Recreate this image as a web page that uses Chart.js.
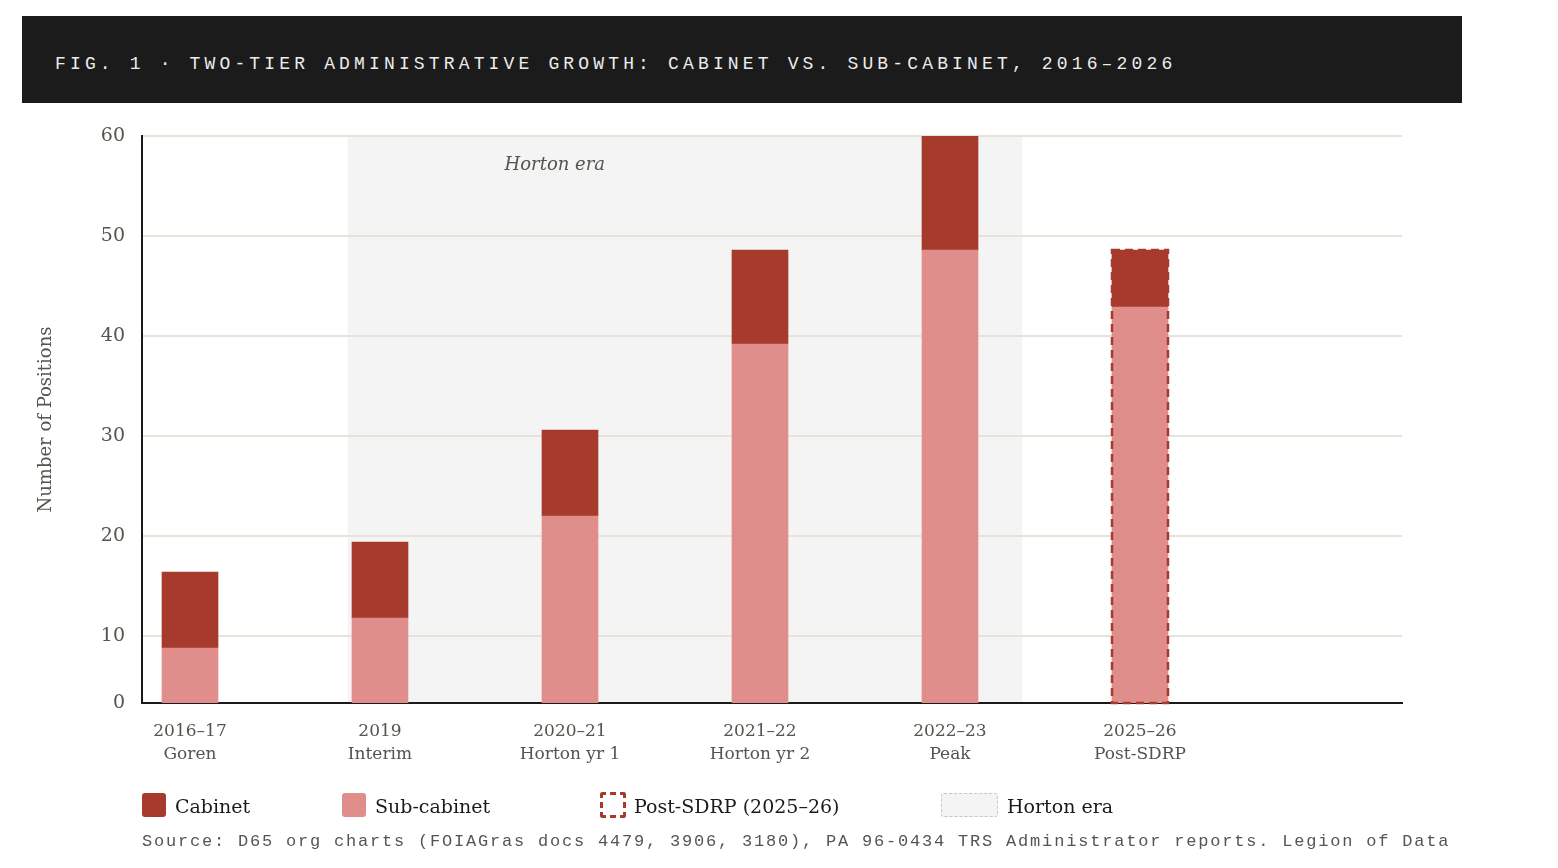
<!DOCTYPE html>
<html>
<head>
<meta charset="utf-8">
<script src="https://cdn.jsdelivr.net/npm/chart.js@4.4.1/dist/chart.umd.min.js"></script>
<style>
  html, body { margin: 0; padding: 0; background: #ffffff; }
  body { width: 1558px; height: 868px; position: relative; overflow: hidden; }
  #chart { position: absolute; left: 0; top: 0; }
  #titlebar { position: absolute; left: 22px; top: 16px; width: 1440px; height: 87px; background: #1b1b1b; }
  #titlebar span { position: absolute; left: 33px; top: 36px; font-family: "Liberation Mono", "DejaVu Sans Mono", monospace; font-size: 18px; letter-spacing: 4.15px; color: #ececec; line-height: 24px; white-space: nowrap; }
  .leg { position: absolute; top: 793px; height: 26px; font-family: "DejaVu Serif", serif; font-size: 19px; color: #1a1a1a; line-height: 26px; white-space: nowrap; }
  .sw { position: absolute; top: 0; box-sizing: border-box; border-radius: 3px; }
  .leg .txt { position: absolute; top: 0; }
  #source { position: absolute; left: 142px; top: 831px; font-family: "Liberation Mono", "DejaVu Sans Mono", monospace; font-size: 17px; letter-spacing: 1.8px; color: #555555; white-space: nowrap; line-height: 22px; }
</style>
</head>
<body>
<canvas id="chart" width="1558" height="868"></canvas>
<div id="titlebar"><span id="titletext"></span></div>
<div id="legend"></div>
<div id="source"></div>
<script>
// ---------- data ----------
const TITLE = 'FIG. 1 · TWO-TIER ADMINISTRATIVE GROWTH: CABINET VS. SUB-CABINET, 2016–2026';
const CATEGORIES = ['2016–17', '2019', '2020–21', '2021–22', '2022–23', '2025–26'];
const ERA_NAMES = ['Goren', 'Interim', 'Horton yr 1', 'Horton yr 2', 'Peak', 'Post-SDRP'];
const SUB_CABINET = [8.8, 11.8, 22.0, 39.2, 48.6, 42.9];
const CABINET = [7.6, 7.6, 8.6, 9.4, 11.4, 5.7];
const Y_TICKS = [0, 10, 20, 30, 40, 50, 60];
const Y_AXIS_TITLE = 'Number of Positions';
const HORTON_ERA = [0.83, 4.38];
const HORTON_LABEL = 'Horton era';
const HORTON_LABEL_X = 1.92;
const POST_SDRP_INDEX = 5;
const LEGEND_LABELS = ['Cabinet', 'Sub-cabinet', 'Post-SDRP (2025–26)', 'Horton era'];
const SOURCE = 'Source: D65 org charts (FOIAGras docs 4479, 3906, 3180), PA 96-0434 TRS Administrator reports. Legion of Data';

// ---------- styles ----------
const C_CAB = '#a63a2c';
const C_SUB = '#e08e8b';
const C_SHADE = '#f4f4f4';
const C_GRID = '#e7e3d8';
const C_AXIS = '#1a1a1a';
const C_TICK = '#57534d';
const Y_FLOOR = 3.3;
const X_MIN = -0.2526, X_MAX = 6.379;

document.getElementById('titletext').textContent = TITLE;
document.getElementById('source').textContent = SOURCE;

// legend (HTML)
const legend = document.getElementById('legend');
const legItems = [
  { left: 142, sw: 'width:24px;height:24px;background:' + C_CAB + ';', tx: 33 },
  { left: 342, sw: 'width:24px;height:24px;background:' + C_SUB + ';', tx: 33 },
  { left: 600, sw: 'width:26px;height:26px;top:-1px;border:3px dashed ' + C_CAB + ';background:transparent;', tx: 34 },
  { left: 941, sw: 'width:57px;height:24px;border:1.5px dashed #c6c6c6;background:' + C_SHADE + ';', tx: 66 }
];
legItems.forEach((it, i) => {
  const d = document.createElement('div');
  d.className = 'leg';
  d.style.left = it.left + 'px';
  d.innerHTML = '<div class="sw" style="' + it.sw + '"></div><span class="txt" style="left:' + it.tx + 'px">' + LEGEND_LABELS[i] + '</span>';
  legend.appendChild(d);
});

const shadePlugin = {
  id: 'shade',
  beforeDraw(chart) {
    const { ctx, chartArea, scales } = chart;
    const x0 = scales.x.getPixelForValue(HORTON_ERA[0]);
    const x1 = scales.x.getPixelForValue(HORTON_ERA[1]);
    ctx.save();
    ctx.fillStyle = C_SHADE;
    ctx.fillRect(x0, chartArea.top, x1 - x0, chartArea.bottom - chartArea.top);
    ctx.fillStyle = C_TICK;
    ctx.font = 'italic 18px "DejaVu Serif", serif';
    ctx.textAlign = 'center';
    ctx.textBaseline = 'middle';
    ctx.fillText(HORTON_LABEL, scales.x.getPixelForValue(HORTON_LABEL_X), chartArea.top + 29);
    ctx.restore();
  }
};

const outlinePlugin = {
  id: 'outline',
  afterDatasetsDraw(chart) {
    const { ctx, chartArea } = chart;
    const sub = chart.getDatasetMeta(0).data[POST_SDRP_INDEX];
    const cab = chart.getDatasetMeta(1).data[POST_SDRP_INDEX];
    if (!sub || !cab) return;
    const w = sub.width;
    const left = sub.x - w / 2;
    const top = cab.y;
    const bottom = Math.min(sub.base, chartArea.bottom);
    ctx.save();
    ctx.strokeStyle = C_CAB;
    ctx.lineWidth = 2.5;
    ctx.setLineDash([8, 5]);
    ctx.strokeRect(left, top, w, bottom - top);
    ctx.restore();
  }
};

const toXY = arr => arr.map((v, i) => ({ x: i, y: v }));

new Chart(document.getElementById('chart'), {
  type: 'bar',
  data: {
    datasets: [
      { label: 'Sub-cabinet', data: toXY(SUB_CABINET), backgroundColor: C_SUB, barThickness: 56, clip: 0, borderWidth: 0 },
      { label: 'Cabinet', data: toXY(CABINET), backgroundColor: C_CAB, barThickness: 56, clip: 0, borderWidth: 0 }
    ]
  },
  options: {
    responsive: false,
    animation: false,
    layout: { padding: { left: 22, top: 136, right: 156, bottom: 85 } },
    plugins: { legend: { display: false }, tooltip: { enabled: false } },
    scales: {
      x: {
        type: 'linear',
        stacked: true,
        offset: false,
        min: X_MIN,
        max: X_MAX,
        afterBuildTicks: s => { s.ticks = CATEGORIES.map((_, i) => ({ value: i })); },
        afterFit: s => { s.height = 80; },
        grid: { display: false, drawTicks: false, offset: false },
        border: { display: true, color: C_AXIS, width: 2 },
        ticks: {
          autoSkip: false, maxRotation: 0, padding: 17,
          color: C_TICK,
          font: { family: '"DejaVu Serif", serif', size: 17, lineHeight: 1.35 },
          callback: v => [CATEGORIES[v], ERA_NAMES[v]]
        }
      },
      y: {
        type: 'linear',
        stacked: true,
        min: Y_FLOOR,
        max: 60,
        afterBuildTicks: s => { s.ticks = Y_TICKS.map(v => ({ value: Math.max(v, Y_FLOOR) })); },
        afterFit: s => { s.width = 120; },
        grid: {
          drawTicks: false,
          lineWidth: 2,
          color: c => (c.tick && c.tick.value <= Y_FLOOR) ? 'rgba(0,0,0,0)' : C_GRID
        },
        border: { display: true, color: C_AXIS, width: 2 },
        ticks: {
          padding: 17,
          color: C_TICK,
          font: { family: '"DejaVu Serif", serif', size: 19 },
          callback: (v, i) => String(Y_TICKS[i])
        },
        title: {
          display: true,
          text: Y_AXIS_TITLE,
          color: C_TICK,
          font: { family: '"DejaVu Serif", serif', size: 18 },
          padding: { top: 14, bottom: 0 }
        }
      }
    }
  },
  plugins: [shadePlugin, outlinePlugin]
});
</script>
</body>
</html>
